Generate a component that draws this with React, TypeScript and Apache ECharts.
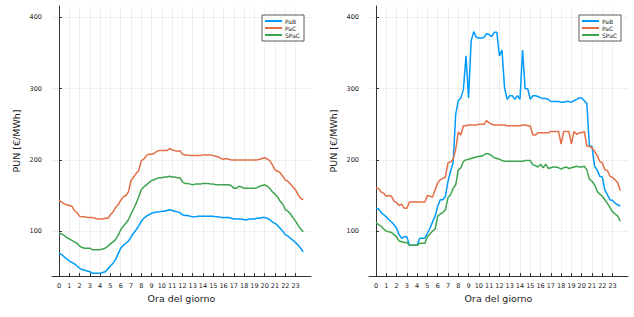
import React, { useEffect, useRef } from "react";
import * as echarts from "echarts";

const hours: number[] = Array.from({ length: 96 }, (_, i) => i / 4);
const tickHours: number[] = Array.from({ length: 24 }, (_, i) => i);
const yTicks: number[] = [100, 200, 300, 400];
const seriesNames: string[] = ["PaB", "PaC", "SPaC"];
const colors: string[] = ["#009AFA", "#E36F47", "#3EA44E"];

// Left panel
const leftPaB: number[] = [
  69, 67, 64, 61, 58, 56, 54, 51, 48, 46, 45, 44, 43, 41, 41, 41,
  41, 42, 43, 47, 51, 55, 60, 68, 76, 80, 83, 86, 92, 97, 102, 107,
  114, 118, 121, 123, 125, 126, 127, 127, 128, 128, 129, 130, 129, 128, 127, 126,
  123, 122, 122, 121, 120, 120, 121, 121, 121, 121, 121, 121, 121, 120, 120, 119,
  119, 119, 119, 118, 117, 117, 117, 117, 116, 116, 117, 117, 117, 118, 118, 119,
  119, 118, 116, 113, 111, 108, 104, 100, 95, 93, 90, 87, 84, 80, 76, 71,
];
const leftPaC: number[] = [
  143, 141, 138, 137, 136, 135, 129, 126, 121, 120, 120, 119, 119, 119, 118, 117,
  117, 117, 118, 118, 123, 127, 133, 137, 143, 148, 150, 155, 171, 176, 181, 185,
  199, 201, 206, 208, 208, 209, 212, 213, 213, 213, 213, 216, 214, 213, 212, 213,
  208, 207, 207, 206, 206, 206, 206, 206, 207, 207, 207, 207, 206, 205, 204, 202,
  201, 202, 201, 200, 200, 200, 200, 200, 200, 200, 200, 200, 200, 200, 201, 202,
  203, 201, 199, 193, 186, 184, 182, 177, 172, 170, 166, 162, 158, 151, 146, 144,
];
const leftSPaC: number[] = [
  97, 96, 94, 91, 89, 87, 85, 83, 79, 77, 76, 76, 76, 74, 74, 74,
  74, 75, 76, 79, 82, 85, 88, 94, 102, 107, 111, 116, 124, 131, 139, 148,
  158, 162, 165, 168, 171, 172, 174, 175, 175, 176, 176, 177, 176, 176, 175, 175,
  169, 167, 167, 166, 165, 166, 166, 166, 167, 167, 167, 166, 166, 165, 165, 165,
  165, 165, 165, 164, 160, 160, 163, 162, 160, 160, 160, 160, 160, 161, 163, 164,
  165, 163, 160, 155, 152, 148, 142, 138, 130, 128, 124, 119, 114, 108, 103, 99,
];

// Right panel
const rightPaB: number[] = [
  132, 131, 126, 123, 120, 116, 113, 109, 104, 95, 90, 92, 92, 80, 80, 80,
  80, 90, 90, 90, 97, 104, 113, 121, 135, 144, 144, 149, 170, 184, 196, 264,
  283, 287, 299, 346, 287, 367, 380, 372, 371, 371, 372, 377, 376, 373, 379, 379,
  346, 354, 301, 285, 290, 290, 285, 290, 285, 354, 300, 300, 285, 290, 290, 289,
  287, 286, 286, 285, 282, 282, 282, 282, 281, 281, 282, 282, 281, 283, 285, 287,
  287, 283, 279, 219, 219, 191, 186, 177, 176, 158, 151, 144, 143, 139, 137, 135,
];
const rightPaC: number[] = [
  161, 160, 155, 153, 149, 150, 149, 142, 140, 136, 138, 132, 132, 141, 141, 141,
  141, 141, 141, 141, 150, 149, 148, 158, 168, 172, 174, 176, 196, 197, 201, 215,
  239, 235, 248, 248, 249, 249, 249, 249, 250, 250, 250, 255, 252, 250, 249, 249,
  249, 249, 249, 248, 248, 248, 248, 248, 248, 249, 249, 248, 248, 235, 235, 238,
  238, 238, 238, 238, 240, 240, 240, 240, 222, 240, 240, 240, 222, 240, 236, 238,
  238, 240, 219, 219, 217, 212, 206, 198, 196, 186, 185, 177, 175, 172, 168, 157,
];
const rightSPaC: number[] = [
  112, 109, 107, 103, 100, 99, 98, 95, 92, 86, 85, 84, 84, 80, 80, 80,
  80, 83, 83, 83, 92, 96, 100, 103, 121, 124, 126, 130, 147, 151, 160, 165,
  186, 189, 198, 200, 201, 202, 203, 204, 205, 205, 207, 209, 208, 206, 203, 202,
  201, 199, 198, 198, 198, 198, 198, 198, 198, 198, 199, 199, 199, 193, 192, 190,
  194, 189, 194, 188, 189, 190, 190, 189, 187, 189, 190, 188, 189, 190, 191, 190,
  190, 191, 186, 173, 170, 165, 156, 152, 149, 144, 139, 133, 127, 124, 121, 114,
];

const panels: number[][][] = [
  [leftPaB, leftPaC, leftSPaC],
  [rightPaB, rightPaC, rightSPaC],
];

const FONT = "DejaVu Sans";

export default function App() {
  const ref = useRef<HTMLDivElement>(null);
  useEffect(() => {
    if (!ref.current) return;
    const chart = echarts.init(ref.current, undefined, { renderer: "svg" });
    const gridLefts = [52, 369];
    const grids = gridLefts.map((l) => ({
      left: l,
      top: 6,
      width: 259,
      height: 270,
      containLabel: false,
    }));
    const xAxes = gridLefts.map((_, i) => ({
      type: "value",
      gridIndex: i,
      min: -0.68,
      max: 24.5,
      name: "Ora del giorno",
      nameLocation: "middle",
      nameGap: 17,
      nameTextStyle: { fontFamily: FONT, fontSize: 9.5, color: "#222" },
      axisLine: { show: true, lineStyle: { color: "#333", width: 1 } },
      axisTick: {
        show: true,
        inside: true,
        length: 3,
        customValues: tickHours,
        lineStyle: { color: "#333" },
      },
      axisLabel: {
        customValues: tickHours,
        fontFamily: FONT,
        fontSize: 6.5,
        color: "#222",
        margin: 6,
      },
      splitLine: { show: true, lineStyle: { color: "rgba(0,0,0,0.08)", width: 0.8 } },
    }));
    const yAxes = gridLefts.map((_, i) => ({
      type: "value",
      gridIndex: i,
      min: 37,
      max: 416,
      name: "PUN [€/MWh]",
      nameLocation: "middle",
      nameGap: 31,
      nameRotate: 90,
      nameTextStyle: { fontFamily: FONT, fontSize: 9.5, color: "#222" },
      axisLine: { show: true, lineStyle: { color: "#333", width: 1 } },
      axisTick: {
        show: true,
        inside: true,
        length: 3,
        customValues: yTicks,
        lineStyle: { color: "#333" },
      },
      axisLabel: {
        customValues: yTicks,
        fontFamily: FONT,
        fontSize: 6.5,
        color: "#222",
        margin: 10,
      },
      splitLine: { show: true, lineStyle: { color: "rgba(0,0,0,0.08)", width: 0.8 } },
    }));
    const series: any[] = [];
    panels.forEach((p, pi) => {
      p.forEach((vals, si) => {
        series.push({
          type: "line",
          name: seriesNames[si],
          xAxisIndex: pi,
          yAxisIndex: pi,
          showSymbol: false,
          symbol: "none",
          color: colors[si],
          lineStyle: { color: colors[si], width: 1.5 },
          data: hours.map((h, k) => [h, vals[k]]),
        });
      });
    });
    const legends = [262, 579].map((l) => ({
      left: l,
      top: 15,
      orient: "vertical",
      icon: "rect",
      itemWidth: 17,
      itemHeight: 2,
      itemGap: 1,
      padding: [3, 4, 3, 3],
      borderColor: "#333",
      borderWidth: 0.8,
      backgroundColor: "#fff",
      data: seriesNames,
      textStyle: { fontFamily: FONT, fontSize: 6, lineHeight: 6, color: "#222", padding: [0, 0, 0, -2] },
    }));
    chart.setOption({
      animation: false,
      backgroundColor: "#fff",
      grid: grids,
      xAxis: xAxes,
      yAxis: yAxes,
      legend: legends,
      series,
    });
    return () => chart.dispose();
  }, []);
  return (
    <div
      ref={ref}
      style={{ position: "fixed", left: 0, top: 0, width: 634, height: 317, background: "#fff" }}
    />
  );
}
